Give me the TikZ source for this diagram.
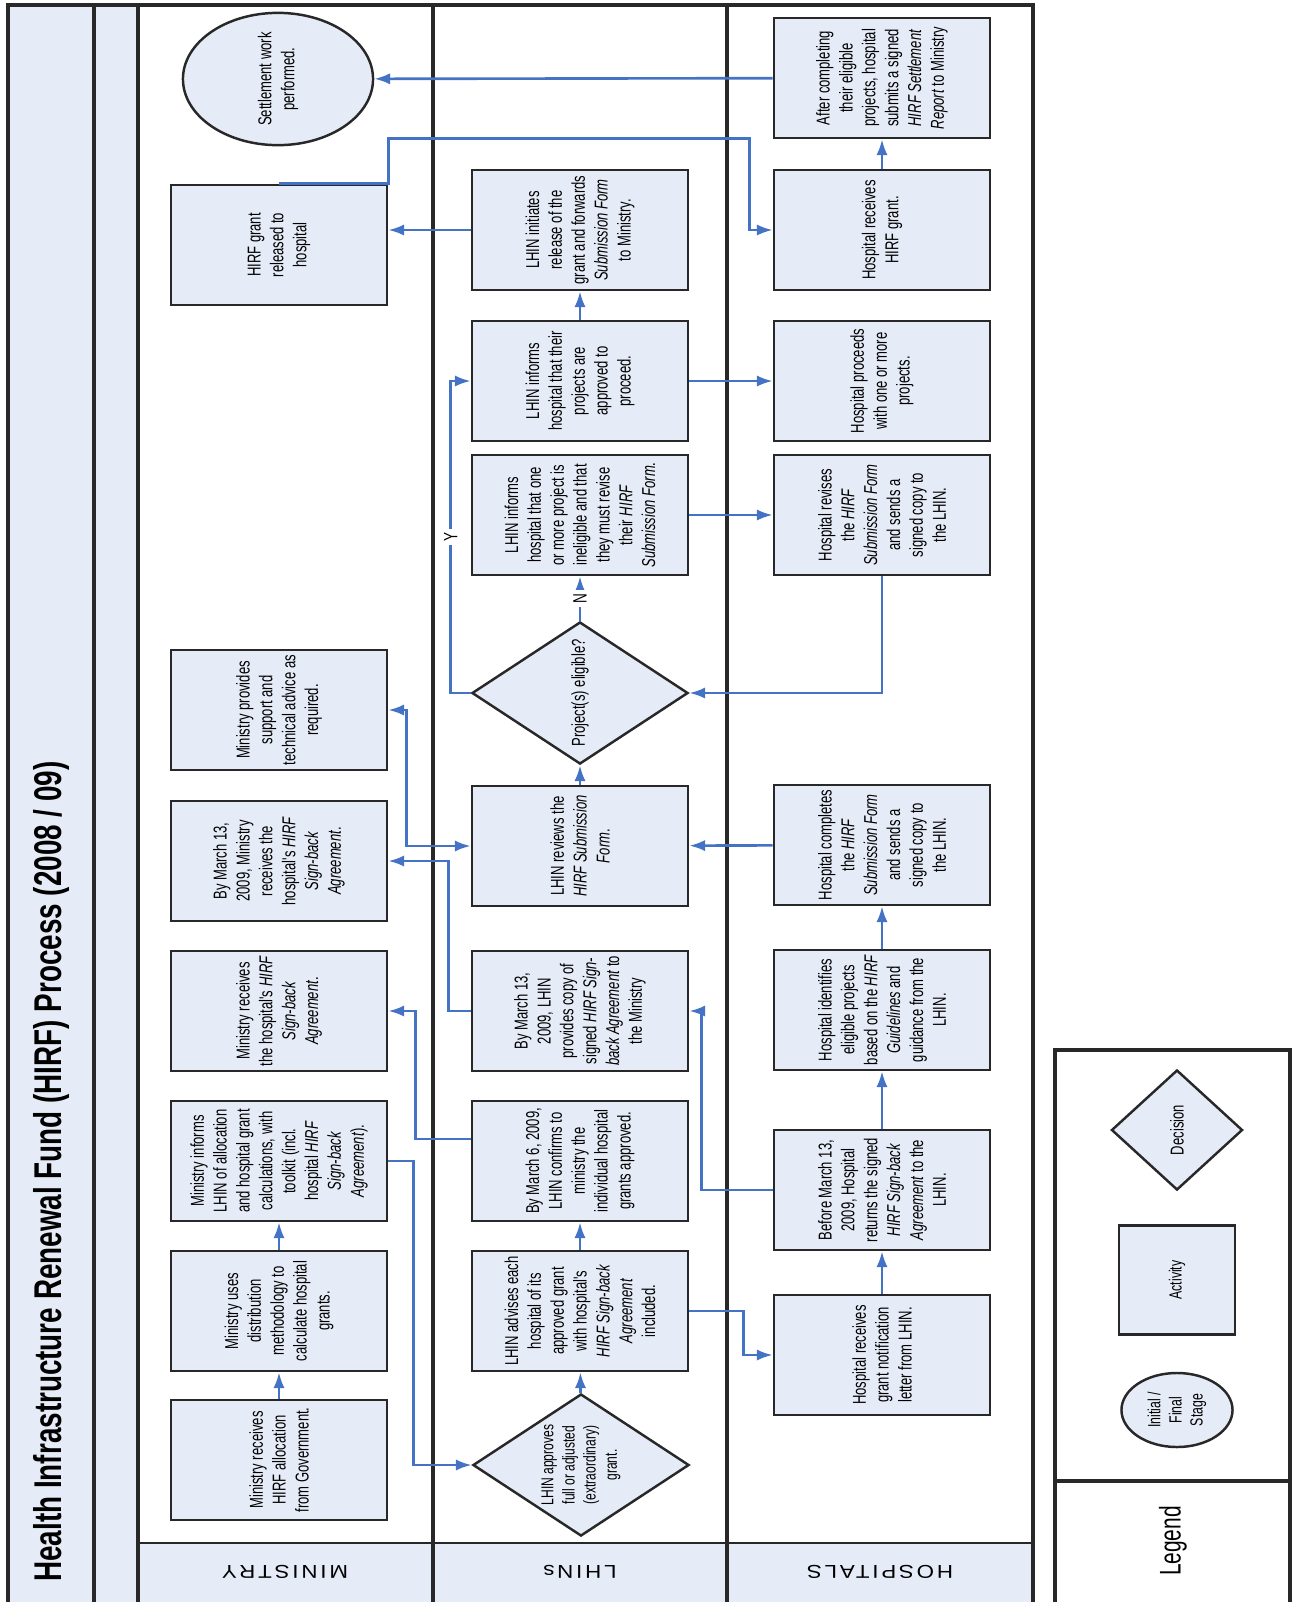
\documentclass[tikz,border=0pt]{standalone}
\usepackage{fontspec}
\setmainfont{Liberation Sans}
\newfontfamily\narrowfont[FakeStretch=0.7]{Liberation Sans}
\newfontfamily\titlefont[FakeStretch=0.72]{Liberation Sans}
\newfontfamily\lanefont[FakeStretch=1.2,LetterSpace=15]{Liberation Sans}
\usetikzlibrary{shapes.geometric, arrows.meta}
\definecolor{boxfill}{RGB}{230,236,247}
\definecolor{flowblue}{RGB}{68,114,196}
\definecolor{edgegray}{RGB}{40,40,40}

\begin{document}
\begin{tikzpicture}[x=0.01cm, y=-0.01cm,
    >={Latex[length=4.5pt,width=3.2pt]},
    every node/.style={font=\narrowfont\fontsize{5.3}{6.5}\selectfont, align=center},
    actbox/.style={draw=edgegray, line width=0.7pt, fill=boxfill, rotate=90,
        minimum width=1.2cm, minimum height=2.16cm, inner sep=1pt},
    decbox/.style={diamond, draw=edgegray, line width=0.7pt, fill=boxfill, rotate=90,
        minimum width=1.42cm, minimum height=2.16cm, shape aspect=0.66, inner sep=0pt},
    stagebox/.style={ellipse, draw=edgegray, line width=0.7pt, fill=boxfill, rotate=90, inner sep=0pt},
    flow/.style={->, draw=flowblue, line width=0.75pt},
    yn/.style={fill=white, inner sep=1pt, rotate=90, font=\narrowfont\fontsize{5.5}{6}\selectfont},
    lane/.style={rotate=180, font=\lanefont\fontsize{5.3}{6}\selectfont}]
  \useasboundingbox (0,0) rectangle (1293,1602);

  % --- frame, title band and lanes ---
  \fill[boxfill] (8,5) rectangle (138,1602);
  \fill[boxfill] (138,1543) rectangle (1033,1602);
  \draw[edgegray, line width=1pt] (8,1602) -- (8,5) -- (1033,5) -- (1033,1602);
  \foreach \x in {94,138,433,727} \draw[edgegray, line width=1pt] (\x,5) -- (\x,1602);
  \draw[edgegray, line width=0.8pt] (138,1543) -- (1033,1543);
  \node[rotate=90, anchor=west, font=\titlefont\bfseries\fontsize{11}{13}\selectfont] (title) at (51,1594)
    {Health Infrastructure Renewal Fund (HIRF) Process (2008 / 09)};
  \node[lane] (lmin) at (285,1572) {MINISTRY};
  \node[lane] (llhin) at (580,1572) {LHINs};
  \node[lane] (lhosp) at (880,1572) {HOSPITALS};

  % --- Ministry lane ---
  \node[actbox] (m1) at (279,1460) {Ministry receives\\HIRF allocation\\from Government.};
  \node[actbox] (m2) at (279,1311) {Ministry uses\\distribution\\methodology to\\calculate hospital\\grants.};
  \node[actbox] (m3) at (279,1161) {Ministry informs\\LHIN of allocation\\and hospital grant\\calculations, with\\toolkit (incl.\\hospital \textit{HIRF}\\\textit{Sign-back}\\\textit{Agreement}).};
  \node[actbox] (m4) at (279,1011) {Ministry receives\\the hospital's \textit{HIRF}\\\textit{Sign-back}\\\textit{Agreement}.};
  \node[actbox] (m5) at (279,861) {By March 13,\\2009, Ministry\\receives the\\hospital's \textit{HIRF}\\\textit{Sign-back}\\\textit{Agreement}.};
  \node[actbox] (m6) at (279,710) {Ministry provides\\support and\\technical advice as\\required.};
  \node[actbox] (mgrant) at (279,245) {HIRF grant\\released to\\hospital};
  \node[stagebox, minimum width=1.28cm, minimum height=1.9cm] (settle) at (278,79) {Settlement work\\performed.};

  % --- LHINs lane ---
  \node[decbox, font=\narrowfont\fontsize{4.9}{6}\selectfont] (d1) at (581,1465) {LHIN approves\\full or adjusted\\(extraordinary)\\grant.};
  \node[actbox] (l1) at (580,1311) {LHIN advises each\\hospital of its\\approved grant\\with hospital's\\\textit{HIRF Sign-back}\\\textit{Agreement}\\included.};
  \node[actbox] (l2) at (580,1161) {By March 6, 2009,\\LHIN confirms to\\ministry the\\individual hospital\\grants approved.};
  \node[actbox] (l3) at (580,1011) {By March 13,\\2009, LHIN\\provides copy of\\signed \textit{HIRF Sign-}\\\textit{back Agreement} to\\the Ministry};
  \node[actbox] (l4) at (580,846) {LHIN reviews the\\\textit{HIRF Submission}\\\textit{Form}.};
  \node[decbox] (dec) at (580,693) {Project(s) eligible?};
  \node[actbox] (l6) at (580,515) {LHIN informs\\hospital that one\\or more project is\\ineligible and that\\they must revise\\their \textit{HIRF}\\\textit{Submission Form}.};
  \node[actbox] (l7) at (580,381) {LHIN informs\\hospital that their\\projects are\\approved to\\proceed.};
  \node[actbox] (l8) at (580,230) {LHIN initiates\\release of the\\grant and forwards\\\textit{Submission Form}\\to Ministry.};

  % --- Hospitals lane ---
  \node[actbox] (h1) at (882,1355) {Hospital receives\\grant notification\\letter from LHIN.};
  \node[actbox] (h2) at (882,1190) {Before March 13,\\2009, Hospital\\returns the signed\\\textit{HIRF Sign-back}\\\textit{Agreement} to the\\LHIN.};
  \node[actbox] (h3) at (882,1010) {Hospital identifies\\eligible projects\\based on the \textit{HIRF}\\\textit{Guidelines} and\\guidance from the\\LHIN.};
  \node[actbox] (h4) at (882,845) {Hospital completes\\the \textit{HIRF}\\\textit{Submission Form}\\and sends a\\signed copy to\\the LHIN.};
  \node[actbox] (h6) at (882,515) {Hospital revises\\the \textit{HIRF}\\\textit{Submission Form}\\and sends a\\signed copy to\\the LHIN.};
  \node[actbox] (h5) at (882,381) {Hospital proceeds\\with one or more\\projects.};
  \node[actbox] (h7) at (882,230) {Hospital receives\\HIRF grant.};
  \node[actbox] (h8) at (882,78) {After completing\\their eligible\\projects, hospital\\submits a signed\\\textit{HIRF Settlement}\\\textit{Report} to Ministry};

  % --- connectors ---
  \draw[flow] (m1) -- (m2);
  \draw[flow] (m2) -- (m3);
  \draw[flow] (m3.south) -- ++(25,0) |- (d1.north);
  \draw[flow] (d1) -- (l1);
  \draw[flow] (l1) -- (l2);
  \draw[flow] ([yshift=0.22cm]l2.north) -- ++(-55,0) |- (m4.south);
  \draw[flow] (l1.south) -- ++(54,0) |- (h1.north);
  \draw[flow] (h1) -- (h2);
  \draw[flow] (h2.north) -- ++(-71,0) |- (l3.south);
  \draw[flow] (h2) -- (h3);
  \draw[flow] (h3) -- (h4);
  \draw[flow] (h4) -- (l4);
  \draw[flow] (l3.north) -- ++(-22,0) |- (m5.south);
  \draw[flow, <->] (l4.north) -- ++(-64,0) |- (m6.south);
  \draw[flow] (l4) -- (dec);
  \draw[flow] (h6.west) |- (dec.south);
  \draw[flow] (dec) -- node[yn] {N} (l6);
  \draw[flow] (dec.north) -- ++(-20,0) |- node[yn, pos=0.25] {Y} (l7.north);
  \draw[flow] (l6) -- (h6);
  \draw[flow] (l7) -- (h5);
  \draw[flow] (l7) -- (l8);
  \draw[flow] (l8.north) -- (l8.north -| mgrant.south);
  \draw[flow] (mgrant.east) -- (mgrant.south east) -- ++(0,-45) -- ++(361,0) |- (h7.north);
  \draw[flow] (h7) -- (h8);
  \draw[flow] (h8) -- (settle);

  % --- legend ---
  \draw[edgegray, line width=1pt] (1055,1602) -- (1055,1050) -- (1290,1050) -- (1290,1602);
  \draw[edgegray, line width=1pt] (1055,1481) -- (1290,1481);
  \node[rotate=90, font=\narrowfont\fontsize{8.5}{10}\selectfont] (legtitle) at (1173,1541) {Legend};
  \node[decbox, minimum width=1.2cm, minimum height=1.31cm, shape aspect=0.92] (legdec) at (1177,1130) {Decision};
  \node[actbox, minimum width=1.09cm, minimum height=1.16cm, font=\narrowfont\fontsize{5}{6}\selectfont] (legact) at (1177,1280) {Activity};
  \node[stagebox, minimum width=0.74cm, minimum height=1.11cm, font=\narrowfont\fontsize{5}{6}\selectfont] (legstage) at (1177,1410) {Initial /\\Final\\Stage};
\end{tikzpicture}
\end{document}
